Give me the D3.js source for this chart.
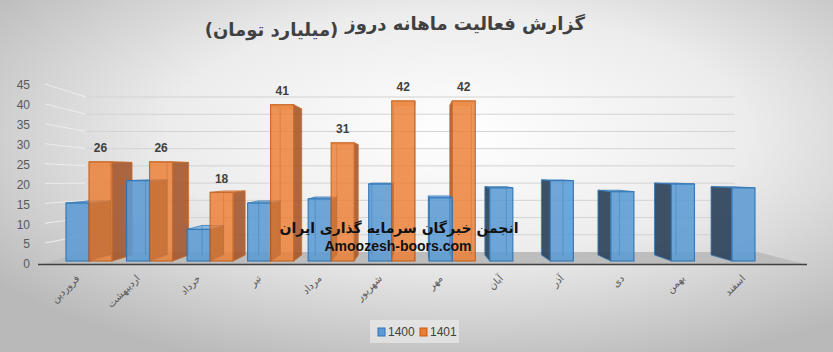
<!DOCTYPE html>
<html>
<head>
<meta charset="utf-8">
<script src="https://cdn.jsdelivr.net/npm/d3@7"></script>
<style>
  html, body { margin: 0; padding: 0; }
  svg { display: block; font-family: "DejaVu Sans", "Liberation Sans", sans-serif; }
</style>
</head>
<body>
<div id="chart"></div>
<script>
const months = ['فروردین', 'اردیبهشت', 'خرداد', 'تیر', 'مرداد', 'شهریور', 'مهر', 'آبان', 'آذر', 'دی', 'بهمن', 'اسفند'];
const series = ['1400', '1401'];
const values1400 = [15.2, 21.1, 8.3, 15.2, 16.3, 20.2, 16.6, 19.2, 21.1, 18.2, 20.2, 19.2];
const values1401 = [26, 26, 18, 41, 31, 42, 42];
const yTicks = [0, 5, 10, 15, 20, 25, 30, 35, 40, 45];
const titleMain = 'گزارش فعالیت ماهانه دروز';
const titleSub = '(میلیارد تومان)';

const width = 833, height = 352;
const vx = 415, vy = 170, depth = 0.066; // perspective for the 3D boxes

const colors = {
  '1400': { front: '#5b9bd5', stroke: '#2e75b6', side: '#34495f', top: '#86b6e2' },
  '1401': { front: '#ed7d31', stroke: '#c55a11', side: '#a3552a', top: '#f3a66f' }
};

const svg = d3.select('#chart').append('svg')
  .attr('width', width)
  .attr('height', height);

// background
const defs = svg.append('defs');
const bg = defs.append('radialGradient').attr('id', 'bg')
  .attr('cx', '55%').attr('cy', '38%').attr('r', '70%');
bg.append('stop').attr('offset', '0%').attr('stop-color', '#ffffff');
bg.append('stop').attr('offset', '50%').attr('stop-color', '#ececec');
bg.append('stop').attr('offset', '100%').attr('stop-color', '#b9b9b9');
svg.append('rect').attr('width', width).attr('height', height).attr('fill', 'url(#bg)');

// scales
const x = d3.scaleBand().domain(months).range([58.75, 785.25]);
const xs = d3.scaleBand().domain(series).range([0, x.bandwidth()]).paddingOuter(0.315);
const yFront = d3.scaleLinear().domain([0, 45]).range([261, 261 - 45 * 3.81]);
const yBack = d3.scaleLinear().domain([0, 45]).range([252, 97]);
const yLabel = d3.scaleLinear().domain([0, 45]).range([264, 85]);

const back = (px, py) => [vx + (px - vx) * (1 - depth), vy + (py - vy) * (1 - depth)];

// side wall lines + back wall gridlines
svg.append('g').selectAll('line.side')
  .data(yTicks.slice(1))
  .join('line')
  .attr('x1', 45).attr('x2', 86)
  .attr('y1', d => yLabel(d) - 1).attr('y2', d => yBack(d))
  .attr('stroke', '#ededed').attr('stroke-width', 1);
svg.append('g').selectAll('line.grid')
  .data(yTicks.slice(1))
  .join('line')
  .attr('x1', 86).attr('x2', 735)
  .attr('y1', d => yBack(d)).attr('y2', d => yBack(d))
  .attr('stroke', '#d3d3d3').attr('stroke-width', 1);

// floor
svg.append('polygon')
  .attr('points', [[38, 264.5], [807, 264.5], [757, yBack(0)], [86, yBack(0)]].join(' '))
  .attr('fill', '#bdbdbd');
svg.append('line')
  .attr('x1', 38).attr('x2', 807).attr('y1', 264.5).attr('y2', 264.5)
  .attr('stroke', '#404040').attr('stroke-width', 1.6);

// y axis labels
svg.append('g')
  .attr('transform', 'translate(30,0)')
  .call(d3.axisLeft(yLabel).tickValues(yTicks).tickSize(0).tickPadding(0))
  .call(g => g.select('.domain').remove())
  .call(g => g.selectAll('text')
    .attr('fill', '#595959')
    .style('font-family', '"Liberation Sans", Arial, sans-serif')
    .style('font-size', '12px'));

// bars
const bars = [];
months.forEach((m, i) => {
  const group = [{ month: m, key: '1400', value: values1400[i] }];
  if (i < values1401.length) group.push({ month: m, key: '1401', value: values1401[i] });
  group.forEach(d => {
    d.x0 = x(m) + xs(d.key);
    d.x1 = d.x0 + xs.bandwidth();
  });
  // draw the box farther from the vanishing point first
  group.sort((a, b) => Math.abs(b.x0 + b.x1 - 2 * vx) - Math.abs(a.x0 + a.x1 - 2 * vx));
  bars.push(...group);
});

const barG = svg.append('g');
const poly = pts => pts.map(p => p.join(',')).join(' ');
bars.forEach(d => {
  const c = colors[d.key];
  const yt = yFront(d.value), yb = yFront(0);
  const g = barG.append('g').attr('opacity', d.key === '1401' ? 0.88 : 0.95);
  // top face
  g.append('polygon')
    .attr('points', poly([[d.x0, yt], [d.x1, yt], back(d.x1, yt), back(d.x0, yt)]))
    .attr('fill', c.top).attr('stroke', c.stroke).attr('stroke-width', 0.8);
  // side face
  const sx = d.x1 < vx ? d.x1 : d.x0;
  g.append('polygon')
    .attr('points', poly([[sx, yt], [sx, yb], back(sx, yb), back(sx, yt)]))
    .attr('fill', c.side).attr('stroke', c.stroke).attr('stroke-width', 0.8);
  // front face
  g.append('rect')
    .attr('x', d.x0).attr('y', yt)
    .attr('width', d.x1 - d.x0).attr('height', yb - yt)
    .attr('fill', c.front).attr('fill-opacity', 0.92)
    .attr('stroke', c.stroke).attr('stroke-width', 1.2);
  // back edge seen through the front
  const ex = back(d.x1 < vx ? d.x0 : d.x1, yt)[0];
  if (ex > d.x0 + 1 && ex < d.x1 - 1) {
    g.append('line')
      .attr('x1', ex).attr('x2', ex)
      .attr('y1', back(ex, yt)[1]).attr('y2', back(ex, yb)[1])
      .attr('stroke', c.stroke).attr('stroke-opacity', 0.45).attr('stroke-width', 1);
  }
});

// data labels for 1401
svg.append('g').selectAll('text')
  .data(values1401.map((v, i) => ({ month: months[i], value: v })))
  .join('text')
  .attr('x', d => x(d.month) + xs('1401') + xs.bandwidth() / 2)
  .attr('y', d => yFront(d.value) - 9.5)
  .attr('text-anchor', 'middle')
  .attr('fill', '#404040')
  .style('font-family', '"Liberation Sans", Arial, sans-serif')
  .style('font-size', '12px')
  .style('font-weight', 'bold')
  .text(d => d.value);

// category labels
svg.append('g').selectAll('text')
  .data(months)
  .join('text')
  .attr('transform', d => `translate(${x(d) + x.bandwidth() / 2 - 9},279) rotate(-45)`)
  .attr('text-anchor', 'end')
  .attr('fill', '#595959')
  .style('font-size', '10px')
  .text(d => d);

// title: main part on the right, the bracket part to its left and a little lower
const tMain = svg.append('text')
  .attr('x', 585).attr('y', 30)
  .attr('text-anchor', 'end')
  .attr('fill', '#404040')
  .style('font-size', '18px').style('font-weight', 'bold')
  .text(titleMain);
const mainW = tMain.node().getComputedTextLength();
svg.append('text')
  .attr('x', 585 - mainW - 7).attr('y', 36)
  .attr('direction', 'rtl').attr('text-anchor', 'start')
  .attr('fill', '#404040')
  .style('font-size', '18px').style('font-weight', 'bold')
  .text(titleSub);

// watermark
svg.append('text')
  .attr('x', 399).attr('y', 233)
  .attr('direction', 'rtl').attr('text-anchor', 'middle')
  .attr('fill', '#111')
  .style('font-size', '14px').style('font-weight', 'bold')
  .text('انجمن خبرگان سرمایه گذاری ایران');
svg.append('text')
  .attr('x', 398).attr('y', 251)
  .attr('text-anchor', 'middle')
  .attr('fill', '#111')
  .style('font-family', '"Liberation Sans", Arial, sans-serif')
  .style('font-size', '14px').style('font-weight', 'bold')
  .text('Amoozesh-boors.com');

// legend
const legend = svg.append('g');
legend.append('rect')
  .attr('x', 370).attr('y', 320).attr('width', 89).attr('height', 23)
  .attr('fill', '#f2f2f2').attr('fill-opacity', 0.55);
const lx = d3.scalePoint().domain(series).range([378, 420]);
const item = legend.selectAll('g.item').data(series).join('g')
  .attr('transform', d => `translate(${lx(d)},328)`);
item.append('rect')
  .attr('width', 7).attr('height', 8)
  .attr('fill', d => colors[d].front)
  .attr('stroke', d => colors[d].stroke);
item.append('text')
  .attr('x', 10).attr('y', 8)
  .attr('fill', '#404040')
  .style('font-family', '"Liberation Sans", Arial, sans-serif')
  .style('font-size', '12px')
  .text(d => d);
</script>
</body>
</html>
